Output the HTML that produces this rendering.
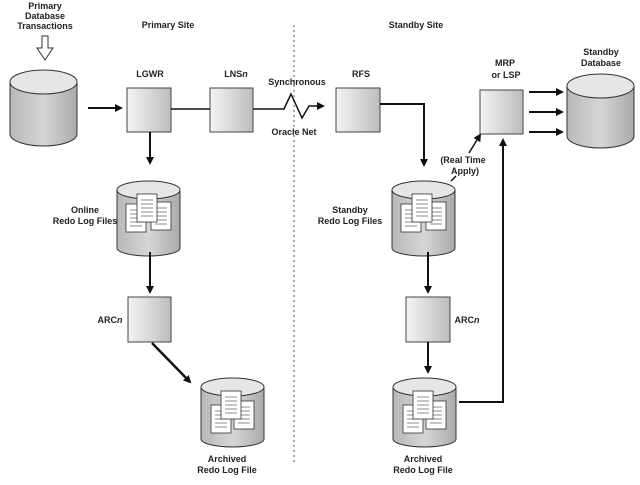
<!DOCTYPE html>
<html><head><meta charset="utf-8"><style>
body{margin:0;background:#fff}
svg text{font-family:"Liberation Sans",sans-serif;font-weight:bold;font-size:9px;fill:#222;text-anchor:middle}
</style></head><body>
<svg width="640" height="480" viewBox="0 0 640 480">
<defs>
<linearGradient id="bx" x1="0" x2="1"><stop offset="0" stop-color="#f4f4f4"/><stop offset="1" stop-color="#bdbdbd"/></linearGradient>
<linearGradient id="cy" x1="0" x2="1"><stop offset="0" stop-color="#b8b8b8"/><stop offset=".5" stop-color="#d6d6d6"/><stop offset="1" stop-color="#aaa"/></linearGradient>
<marker id="ah" markerWidth="8" markerHeight="8" refX="6" refY="4" orient="auto" markerUnits="userSpaceOnUse"><path d="M0,0 L8,4 L0,8 z" fill="#111"/></marker>
<g id="doc"><rect x="0" y="0" width="20" height="28" fill="#fff" stroke="#333" stroke-width=".8"/><path d="M4,6h12M4,10h12M4,14h12M4,18h12M4,22h12" stroke="#666" stroke-width=".8"/></g>
</defs>
<line x1="294" y1="25" x2="294" y2="462" stroke="#aaa" stroke-width="2" stroke-dasharray="2,3"/>
<text x="45" y="9">Primary</text><text x="45" y="19">Database</text><text x="45" y="29">Transactions</text>
<path d="M42,36h6v12h5l-8,12l-8,-12h5z" fill="#fff" stroke="#333"/>
<text x="168" y="28">Primary Site</text><text x="416" y="28">Standby Site</text>
<path d="M10,82 v52 a33.5,12 0 0 0 67,0 v-52" fill="url(#cy)" stroke="#333"/>
<ellipse cx="43.5" cy="82" rx="33.5" ry="12" fill="#e6e6e6" stroke="#333"/>
<line x1="88" y1="108" x2="121" y2="108" stroke="#111" stroke-width="2" marker-end="url(#ah)"/>
<text x="150" y="77">LGWR</text>
<rect x="127" y="88" width="44" height="44" fill="url(#bx)" stroke="#444"/>
<text x="236" y="77">LNS<tspan font-style="italic">n</tspan></text>
<rect x="210" y="88" width="43" height="44" fill="url(#bx)" stroke="#444"/>
<line x1="171" y1="109" x2="210" y2="109" stroke="#111" stroke-width="1.5"/>
<polyline points="253,109 284,109 291,94 302,118 309,106 323,106" fill="none" stroke="#111" stroke-width="1.5" marker-end="url(#ah)"/>
<text x="297" y="85">Synchronous</text><text x="294" y="135">Oracle Net</text>
<text x="361" y="77">RFS</text>
<rect x="336" y="88" width="44" height="44" fill="url(#bx)" stroke="#444"/>
<polyline points="380,104 424,104 424,165" fill="none" stroke="#111" stroke-width="2" marker-end="url(#ah)"/>
<line x1="150" y1="132" x2="150" y2="163" stroke="#111" stroke-width="2" marker-end="url(#ah)"/>
<g transform="translate(117,180)"><path d="M0,10 v58 a31.5,8 0 0 0 63,0 v-58" fill="url(#cy)" stroke="#333"/><ellipse cx="31.5" cy="10" rx="31.5" ry="9" fill="#e6e6e6" stroke="#333"/><use href="#doc" x="9" y="24"/><use href="#doc" x="34" y="22"/><use href="#doc" x="20" y="14"/></g>
<text x="85" y="213">Online</text><text x="85" y="224">Redo Log Files</text>
<g transform="translate(392,180)"><path d="M0,10 v58 a31.5,8 0 0 0 63,0 v-58" fill="url(#cy)" stroke="#333"/><ellipse cx="31.5" cy="10" rx="31.5" ry="9" fill="#e6e6e6" stroke="#333"/><use href="#doc" x="9" y="24"/><use href="#doc" x="34" y="22"/><use href="#doc" x="20" y="14"/></g>
<text x="350" y="213">Standby</text><text x="350" y="224">Redo Log Files</text>
<text x="463" y="163" font-weight="normal" font-size="10">(Real Time</text><text x="465" y="174" font-weight="normal" font-size="10">Apply)</text>
<line x1="451" y1="181" x2="456" y2="176" stroke="#111" stroke-width="1.5"/>
<line x1="469" y1="153" x2="480" y2="135" stroke="#111" stroke-width="1.5" marker-end="url(#ah)"/>
<text x="505" y="66" font-size="11">MRP</text><text x="506" y="78" font-size="11">or LSP</text>
<rect x="480" y="90" width="43" height="44" fill="url(#bx)" stroke="#444"/>
<line x1="529" y1="92" x2="562" y2="92" stroke="#111" stroke-width="2" marker-end="url(#ah)"/>
<line x1="529" y1="112" x2="562" y2="112" stroke="#111" stroke-width="2" marker-end="url(#ah)"/>
<line x1="529" y1="132" x2="562" y2="132" stroke="#111" stroke-width="2" marker-end="url(#ah)"/>
<text x="601" y="55" font-size="11">Standby</text><text x="601" y="66" font-size="11">Database</text>
<path d="M567,86 v50 a33.5,12 0 0 0 67,0 v-50" fill="url(#cy)" stroke="#333"/>
<ellipse cx="600.5" cy="86" rx="33.5" ry="12" fill="#e6e6e6" stroke="#333"/>
<line x1="150" y1="252" x2="150" y2="292" stroke="#111" stroke-width="2" marker-end="url(#ah)"/>
<rect x="128" y="297" width="43" height="45" fill="url(#bx)" stroke="#444"/>
<text x="110" y="323">ARC<tspan font-style="italic">n</tspan></text>
<line x1="152" y1="343" x2="190" y2="382" stroke="#111" stroke-width="2.5" marker-end="url(#ah)"/>
<g transform="translate(201,377)"><path d="M0,10 v52 a31.5,8 0 0 0 63,0 v-52" fill="url(#cy)" stroke="#333"/><ellipse cx="31.5" cy="10" rx="31.5" ry="9" fill="#e6e6e6" stroke="#333"/><use href="#doc" x="10" y="28"/><use href="#doc" x="33" y="24"/><use href="#doc" x="20" y="14"/></g>
<text x="227" y="462">Archived</text><text x="227" y="473">Redo Log File</text>
<line x1="428" y1="252" x2="428" y2="292" stroke="#111" stroke-width="2" marker-end="url(#ah)"/>
<rect x="406" y="297" width="44" height="45" fill="url(#bx)" stroke="#444"/>
<text x="467" y="323">ARC<tspan font-style="italic">n</tspan></text>
<line x1="428" y1="342" x2="428" y2="372" stroke="#111" stroke-width="2" marker-end="url(#ah)"/>
<g transform="translate(393,377)"><path d="M0,10 v52 a31.5,8 0 0 0 63,0 v-52" fill="url(#cy)" stroke="#333"/><ellipse cx="31.5" cy="10" rx="31.5" ry="9" fill="#e6e6e6" stroke="#333"/><use href="#doc" x="10" y="28"/><use href="#doc" x="33" y="24"/><use href="#doc" x="20" y="14"/></g>
<text x="423" y="462">Archived</text><text x="423" y="473">Redo Log File</text>
<polyline points="459,402 503,402 503,140" fill="none" stroke="#111" stroke-width="2" marker-end="url(#ah)"/>
</svg>
</body></html>
